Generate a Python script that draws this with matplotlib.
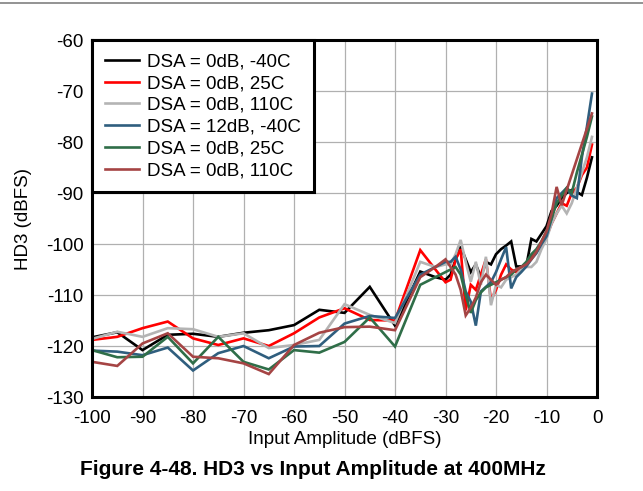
"""HD3 vs input amplitude at 400 MHz."""
import matplotlib
matplotlib.use("Agg")
import matplotlib.pyplot as plt
from matplotlib.lines import Line2D

plt.rcParams["font.family"] = ["Liberation Sans", "DejaVu Sans"]
plt.rcParams["axes.unicode_minus"] = False

amplitude = [-100, -95, -90, -85, -80, -75, -70, -65, -60, -55, -50, -45, -40,
             -35, -32,
             -30, -29, -28, -27, -26, -25, -24, -23, -22, -21,
             -20, -19, -18, -17, -16, -15, -14, -13, -12, -11,
             -10, -9, -8, -7, -6, -5, -4, -3, -2, -1]

dsa0_m40 = [-118.3, -117.3, -120.8, -117.8, -117.6, -118.2, -117.4, -116.9, -115.9, -112.9, -113.5, -108.4, -116.0,
            -105.4, -106.5,
            -107.0, -106.0, -103.0, -100.5, -103.0, -105.5, -104.0, -106.5, -103.5, -104.0,
            -102.0, -101.0, -100.3, -99.5, -104.4, -104.4, -104.3, -99.0, -99.5, -98.0,
            -96.5, -93.5, -92.5, -91.0, -90.0, -89.4, -89.8, -90.4, -87.0, -83.0]
dsa0_25 = [-118.8, -118.2, -116.5, -115.2, -118.5, -119.8, -118.5, -120.0, -117.5, -114.4, -112.6, -114.9, -115.0,
           -101.2, -105.0,
           -107.5, -107.0, -103.0, -101.0, -113.0, -108.0, -109.0, -106.0, -103.0, -111.0,
           -109.0, -106.0, -104.0, -105.0, -105.5, -104.5, -104.0, -102.5, -101.5, -100.0,
           -98.5, -96.0, -94.0, -92.0, -92.5, -90.0, -89.0, -86.5, -85.0, -80.5]
dsa0_110 = [-118.6, -117.2, -118.2, -116.5, -116.7, -118.2, -117.5, -120.4, -119.8, -118.8, -111.8, -113.9, -115.5,
            -103.5, -104.5,
            -104.0, -104.0, -102.0, -99.2, -103.5, -107.4, -103.5, -108.0, -102.5, -112.0,
            -108.0, -108.5, -107.0, -106.5, -106.0, -105.0, -104.5, -104.5, -103.5, -101.0,
            -99.0, -96.0, -94.0, -92.5, -94.0, -92.0, -89.0, -86.0, -83.0, -79.0]
dsa12_m40 = [-120.9, -121.1, -121.8, -120.3, -124.8, -121.4, -120.0, -122.4, -120.1, -120.0, -115.6, -114.1, -114.5,
             -106.0, -104.5,
             -103.5, -103.5, -102.5, -105.0, -109.3, -111.3, -116.0, -109.3, -108.4, -107.5,
             -105.5, -103.0, -100.6, -108.7, -106.5, -105.5, -104.4, -103.0, -101.8, -100.0,
             -98.5, -95.0, -91.0, -90.0, -89.0, -90.5, -91.0, -83.0, -77.0, -70.5]
dsa0_25b = [-120.8, -122.2, -122.1, -118.2, -123.4, -118.2, -123.1, -124.6, -120.8, -121.3, -119.2, -114.4, -120.1,
            -108.0, -106.5,
            -105.5, -105.0, -104.5, -106.0, -110.0, -113.5, -111.0, -109.5, -108.5, -108.0,
            -107.5, -107.0, -106.5, -106.0, -105.0, -104.5, -103.5, -102.0, -101.0, -99.5,
            -97.5, -95.0, -92.0, -90.5, -89.0, -90.0, -86.0, -82.5, -79.0, -75.0]
dsa0_110b = [-123.1, -123.9, -119.5, -117.5, -122.1, -122.4, -123.4, -125.5, -119.8, -117.4, -116.3, -116.2, -116.9,
             -106.5, -104.5,
             -103.0, -104.5, -106.0, -109.0, -114.0, -112.5, -110.5, -107.5, -106.0, -107.0,
             -108.0, -107.0, -106.5, -105.5, -105.0, -104.5, -104.0, -103.0, -101.5, -99.5,
             -97.5, -94.0, -88.8, -92.4, -89.4, -86.4, -83.4, -80.4, -77.4, -74.4]

series = [
    ("DSA = 0dB, -40C", dsa0_m40, "#000000"),
    ("DSA = 0dB, 25C", dsa0_25, "#ff0000"),
    ("DSA = 0dB, 110C", dsa0_110, "#b4b4b4"),
    ("DSA = 12dB, -40C", dsa12_m40, "#2f5e7e"),
    ("DSA = 0dB, 25C", dsa0_25b, "#2f6e48"),
    ("DSA = 0dB, 110C", dsa0_110b, "#a54444"),
]

fig = plt.figure(figsize=(6.43, 4.91), dpi=100)
ax = fig.add_axes([0.1431, 0.1914, 0.7854, 0.7271])

for label, vals, color in series:
    ax.plot(amplitude, vals, color=color, lw=1.9, label=label, solid_joinstyle="miter")

ax.set_xlim(-100, 0)
ax.set_ylim(-130, -60)
ax.set_xticks(range(-100, 1, 10))
ax.set_yticks(range(-130, -59, 10))
ax.grid(True, color="#b0b0b0", lw=0.9)
ax.set_axisbelow(True)
ax.tick_params(length=0, labelsize=13.5)
ax.tick_params(axis="x", pad=9)
ax.tick_params(axis="y", pad=6)
for sp in ax.spines.values():
    sp.set_linewidth(2.2)

ax.set_xlabel("Input Amplitude (dBFS)", fontsize=13.5, labelpad=3)
ax.set_ylabel("HD3 (dBFS)", fontsize=13.5, labelpad=10)

leg = ax.legend(loc="upper left", bbox_to_anchor=(0, 1), borderaxespad=0,
                fontsize=13.5, fancybox=False, framealpha=1, edgecolor="black",
                handlelength=1.8, handletextpad=0.45, labelspacing=0.25,
                borderpad=0.7)
leg.get_frame().set_linewidth(2.2)

fig.text(0.487, 0.043, "Figure 4-48. HD3 vs Input Amplitude at 400MHz",
         ha="center", va="center", fontsize=15, fontweight="bold")
fig.add_artist(Line2D([0, 1], [1 - 3 / 491, 1 - 3 / 491], color="#808080", lw=1.2))

fig.savefig("out.png", dpi=100)
